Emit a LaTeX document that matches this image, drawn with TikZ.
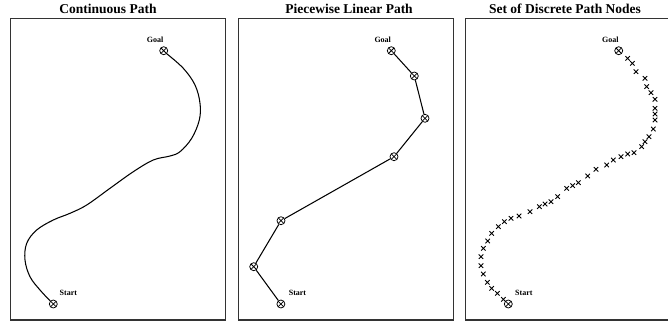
\documentclass[tikz,border=0pt]{standalone}
\usepackage{fontspec}
\setmainfont{Liberation Serif}
\usetikzlibrary{shapes.misc}
\tikzset{
  frame/.style={draw=black!80, line width=1.2pt},
  ttl/.style={font=\fontsize{13.5}{15}\selectfont\bfseries, anchor=base, inner sep=0pt},
  lbl/.style={font=\fontsize{8}{9}\selectfont\bfseries, anchor=base west, inner sep=0pt},
  ocross/.style={circle, draw, line width=0.75pt, minimum size=8pt, inner sep=0pt, fill=white,
    path picture={\draw[line width=0.75pt] (path picture bounding box.north east) -- (path picture bounding box.south west)
      (path picture bounding box.north west) -- (path picture bounding box.south east);}},
  xmark/.style={cross out, draw, line width=0.9pt, minimum size=3.6pt, inner sep=0pt},
  pathline/.style={line width=1.05pt}
}
\begin{document}
\begin{tikzpicture}[x=1pt, y=-1pt]
\useasboundingbox (0,0) rectangle (668,321);
% titles
\node[ttl] (t1) at (108,14) {Continuous Path};
\node[ttl] (t2) at (349,14) {Piecewise Linear Path};
\node[ttl] (t3) at (565,14) {Set of Discrete Path Nodes};
% frames
\draw[frame] (10.7,18.3) rectangle (225.7,320);
\draw[frame] (238.3,18.3) rectangle (453.3,320);
\draw[frame] (668,18.3) -- (465.7,18.3) -- (465.7,320) -- (668,320);

% panel 1
\node[ocross] (s1) at (53.3,304) {};
\node[ocross] (g1) at (163.7,50.7) {};
\node[lbl] (ls1) at (59.5,295) {Start};
\node[lbl] (lg1) at (146.7,42) {Goal};
\draw[pathline] plot[smooth, tension=0.6] coordinates {(s1.135) (40,290) (30,276.7) (25,260) (26.7,243.3) (36.7,230) (53.3,220) (70,213.3) (86.7,205) (110,188.3) (133.3,171.7) (153.3,160) (170,156) (180,151.7) (191.7,138.3) (199.3,120) (200,103.3) (195,85) (183.3,68.3) (g1.-45)};

% panel 2
\begin{scope}[xshift=227.6pt]
\node[ocross] (s2) at (53.3,304) {};
\node[ocross] (n2a) at (26.1,266.7) {};
\node[ocross] (n2b) at (53.4,220.7) {};
\node[ocross] (n2c) at (166.4,156.7) {};
\node[ocross] (n2d) at (197.4,118.3) {};
\node[ocross] (n2e) at (186.7,76) {};
\node[ocross] (g2) at (163.7,50.7) {};
\node[lbl] (ls2) at (61,295) {Start};
\node[lbl] (lg2) at (146.7,42) {Goal};
\draw[pathline] (s2) -- (n2a) -- (n2b) -- (n2c) -- (n2d) -- (n2e) -- (g2);
\end{scope}

% panel 3
\begin{scope}[xshift=455pt]
\node[ocross] (s3) at (53.3,304) {};
\node[ocross] (g3) at (163.7,50.7) {};
\node[lbl] (ls3) at (60,295) {Start};
\node[lbl] (lg3) at (147,42) {Goal};
\end{scope}
\begin{scope}[shift={(445,0)}, x=0.33333pt, y=-0.33333pt]
\foreach \i/\p in {1/{548,175},2/{562,190},3/{573,215},4/{600,235},5/{605,260},6/{618,278},7/{630,298},8/{630,325},9/{630,342},10/{630,360},11/{625,387},12/{612,410},13/{600,425},14/{590,440},15/{567,458},16/{548,462},17/{528,470},18/{505,480},19/{485,495},20/{453,508},21/{428,528},22/{400,548},23/{383,557},24/{365,565},25/{338,590},26/{318,605},27/{300,612},28/{283,620},29/{255,635},30/{222,648},31/{198,655},32/{178,665},33/{160,680},34/{140,700},35/{128,723},36/{115,745},37/{108,770},38/{108,797},39/{115,822},40/{127,847},41/{140,865},42/{157,880},43/{175,898}}{
  \node[xmark] (x\i) at (\p) {};
}
\end{scope}
\end{tikzpicture}
\end{document}
